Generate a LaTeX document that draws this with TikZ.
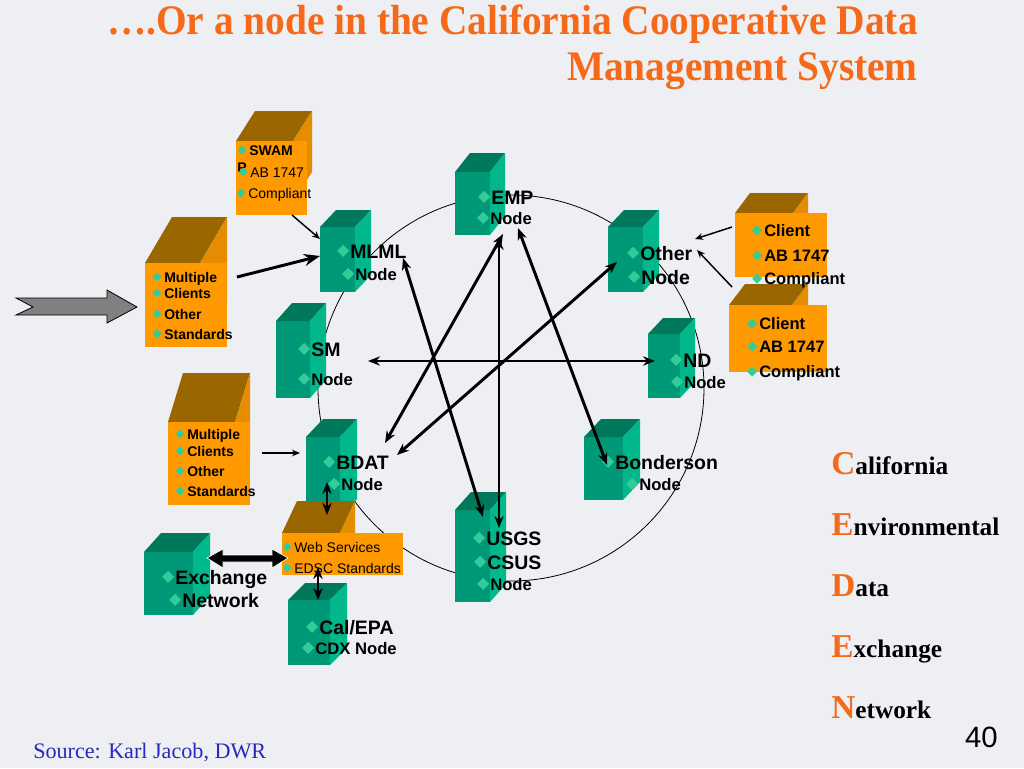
\documentclass[tikz,border=0pt]{standalone}
\usepackage{fontspec}
\setmainfont{Liberation Serif}
\setsansfont{Liberation Sans}
\newfontfamily\symfont{DejaVu Sans}
\usepackage{xcolor}
\usetikzlibrary{arrows.meta}
\definecolor{slide}{RGB}{237,239,242}
\definecolor{tealfront}{RGB}{0,153,119}
\definecolor{tealtop}{RGB}{0,120,92}
\definecolor{tealside}{RGB}{0,184,140}
\definecolor{bullet}{RGB}{51,204,153}
\definecolor{orgfront}{RGB}{255,153,0}
\definecolor{orgtop}{RGB}{153,102,0}
\definecolor{orgside}{RGB}{230,140,0}
\definecolor{titleorange}{RGB}{245,105,25}
\definecolor{srcblue}{RGB}{40,40,190}
\definecolor{arrowgray}{RGB}{128,128,128}
\newcommand{\dia}[1][12]{\raisebox{\dimexpr0.36em-#1pt*3/10\relax}{\makebox[4.5pt]{\textcolor{bullet}{\symfont\fontsize{#1}{#1}\selectfont ◆}}}\hspace{3pt}}
\tikzset{>={Stealth[length=9pt,width=7pt]},
 server/.style={fill=tealfront, anchor=north west, inner sep=0pt, outer sep=0pt},
 crate/.style={fill=orgfront, anchor=north west, inner sep=0pt, outer sep=0pt},
 big/.style={anchor=west, inner sep=0pt, text height=10.5pt, text depth=0pt,
   font=\sffamily\bfseries\fontsize{14.6}{16}\selectfont},
 small/.style={anchor=west, inner sep=0pt, text height=9pt, text depth=0pt,
   font=\sffamily\bfseries\fontsize{12.5}{14}\selectfont},
 note/.style={anchor=west, inner sep=0pt, text height=7.5pt, text depth=0pt,
   font=\sffamily\fontsize{10.5}{12}\selectfont},
 notebf/.style={note, font=\sffamily\bfseries\fontsize{10.5}{12}\selectfont},
 client/.style={anchor=west, inner sep=0pt, text height=8.9pt, text depth=0pt,
   font=\sffamily\bfseries\fontsize{12.4}{14}\selectfont},
 title/.style={anchor=base east, inner sep=0pt, text=titleorange,
   font=\bfseries\fontsize{29.5}{34}\selectfont},
 ceden/.style={anchor=base west, inner sep=0pt, font=\bfseries\fontsize{19}{22}\selectfont},
 link/.style={line width=2.2pt, <->},
 feed/.style={line width=1.1pt, -{Stealth[length=6pt,width=5pt]}},
}

\begin{document}
\begin{tikzpicture}[x=0.75pt,y=-0.75pt]
  \useasboundingbox (0,0) rectangle (1024,768);
  \fill[slide] (0,0) rectangle (1024,768);

  \node[title] (title1) at (918,34) {\scalebox{1}[1.07]{….Or a node in the California Cooperative Data}};
  \node[title] (title2) at (918,80) {\scalebox{1}[1.07]{Management System}};

  % the ring of nodes
  \draw[line width=0.6pt] (511,388) circle [radius=193];

  \foreach \n/\x/\y/\w/\h/\dx/\dy in {emp/455/172/35/63/15/19, mlml/320/227/35/65/16/17,
      other/608/227/35/65/16/17, sm/276/321/34/77/16/18, nd/648/334/32/64/15/16,
      bdat/306/437/34/80/17/18, bond/584/437/39/63/17/18, usgs/455/510/35/92/16/18,
      exch/144/552/49/63/17/19, cal/288/600/42/65/17/17} {
    \node[server, minimum width=\w*0.75pt, minimum height=\h*0.75pt] (\n) at (\x,\y) {};
    \fill[tealtop] (\n.north west) -- ++(\dx,-\dy) -- ++(\w,0) -- (\n.north east) -- cycle;
    \fill[tealside] (\n.north east) -- ++(\dx,-\dy) -- ++(0,\h) -- (\n.south east) -- cycle;
  }

  % clients and standards
  \foreach \n/\x/\y/\w/\h/\dx/\dy/\rw/\rh in {swamp/236/141/57/61/19/30/71/74,
      mctop/145/263/55/84/27/46/82/84, mclow/168/422/67/83/15/49/82/83,
      web/282/533/58/42/15/32/121/42, cli1/735/213/58/64/15/20/92/64,
      cli2/729/305/63/67/16/21/98/67} {
    \fill[orgtop] (\x,\y) -- ++(\dx,-\dy) -- ++(\w,0) -- ++(-\dx,\dy) -- cycle;
    \fill[orgside] (\x+\w,\y) -- ++(\dx,-\dy) -- ++(0,\h) -- ++(-\dx,\dy) -- cycle;
    \node[crate, minimum width=\rw*0.75pt, minimum height=\rh*0.75pt] (\n) at (\x,\y) {};
  }

  \node[notebf] (swamp-1) at (239,150) {\dia[9]SWAM};
  \node[notebf] (swamp-p) at (237,167) {P};
  \node[note] (swamp-2) at (240,172) {\dia[9]AB 1747};
  \node[note] (swamp-3) at (238,193) {\dia[9]Compliant};
  \foreach \t/\y [count=\i] in {Multiple/277, Clients/293, Other/314, Standards/334}
    \node[notebf] (mctop-\i) at (154,\y) {\dia[9]\t};
  \foreach \t/\y [count=\i] in {Multiple/434, Clients/451, Other/471, Standards/491}
    \node[notebf] (mclow-\i) at (177,\y) {\dia[9]\t};
  \foreach \t/\y [count=\i] in {Web Services/547, EDSC Standards/568}
    \node[note] (web-\i) at (284,\y) {\dia[9]\t};
  \foreach \t/\y [count=\i] in {Client/231, AB 1747/256, Compliant/279}
    \node[client] (cli1-\i) at (754,\y) {\dia[10]\t};
  \foreach \t/\y [count=\i] in {Client/324, AB 1747/347, Compliant/372}
    \node[client] (cli2-\i) at (749,\y) {\dia[10]\t};

  \foreach \n/\x/\y/\s/\t in {emp-1/481/197/big/EMP, emp-2/480/218/small/Node,
      mlml-1/340/251/big/MLML, mlml-2/345/274/small/Node,
      other-1/630/253/big/Other, other-2/631/277/big/Node,
      sm-1/301/349/big/SM, sm-2/301/379/small/Node,
      nd-1/673/360/big/ND, nd-2/674/382/small/Node,
      bdat-1/326/462/big/BDAT, bdat-2/331/484/small/Node,
      bond-1/605/462/big/Bonderson, bond-2/629/484/small/Node,
      usgs-1/476/538/big/USGS, usgs-2/477/562/big/CSUS, usgs-3/480/584/small/Node,
      exch-1/165/577/big/Exchange, exch-2/172/600/big/Network,
      cal-1/309/627/big/Cal\slash EPA, cal-2/305/648/small/CDX Node}
    \node[\s] (\n) at (\x,\y) {\dia\t};

  % arrow ends
  \coordinate (mlml-a) at (403,258);
  \coordinate (mlml-b) at (320,239);
  \coordinate (mlml-c) at (320,256);
  \coordinate (emp-a) at (503,234);
  \coordinate (emp-b) at (499,238);
  \coordinate (emp-c) at (518,228);
  \coordinate (usgs-a) at (483,517);
  \coordinate (usgs-b) at (499,528);
  \coordinate (bdat-a) at (385,443);
  \coordinate (bdat-b) at (397,455);
  \coordinate (bdat-c) at (300,453);
  \coordinate (bdat-d) at (327,482);
  \coordinate (other-a) at (617,262);
  \coordinate (other-b) at (695,239);
  \coordinate (other-c) at (697,250);
  \coordinate (bond-a) at (607,465);
  \coordinate (sm-a) at (368,361);
  \coordinate (nd-a) at (655,361);
  \coordinate (swamp-a) at (292,215);
  \coordinate (mctop-a) at (237,277);
  \coordinate (mclow-a) at (262,453);
  \coordinate (cli1-a) at (732,227);
  \coordinate (cli2-a) at (732,287);
  \coordinate (web-a) at (327,515);
  \coordinate (web-b) at (318,567);
  \coordinate (cal-a) at (318,600);

  \draw[link] (mlml-a) -- (usgs-a);
  \draw[link] (bdat-a) -- (emp-a);
  \draw[link] (emp-b) -- (usgs-b);
  \draw[link] (emp-c) -- (bond-a);
  \draw[link] (bdat-b) -- (other-a);
  \draw[link] (sm-a) -- (nd-a);
  \draw[link] (bdat-d) -- (web-a);
  \draw[link] (web-b) -- (cal-a);
  \draw[feed] (swamp-a) -- (mlml-b);
  \draw[line width=2.2pt, -{Stealth[length=12pt,width=9pt]}] (mctop-a) -- (mlml-c);
  \draw[feed] (cli1-a) -- (other-b);
  \draw[feed] (cli2-a) -- (other-c);
  \draw[feed] (mclow-a) -- (bdat-c);

  % block arrows
  \filldraw[fill=arrowgray, draw=black, line width=0.6pt] (16,298) -- (107,298) -- (107,290)
    -- (137,307) -- (107,323) -- (107,315) -- (16,315) -- (33,307) -- cycle;
  \filldraw[fill=black, draw=white, line width=0.5pt] (207,558) -- (223,549) -- (223,555)
    -- (272,555) -- (272,549) -- (288,558) -- (272,568) -- (272,562) -- (223,562)
    -- (223,568) -- cycle;

  % CEDEN
  \foreach \c/\t/\y [count=\i] in {C/alifornia/474, E/nvironmental/535, D/ata/596,
      E/xchange/657, N/etwork/718}
    \node[ceden] (ceden-\i) at (831,\y) {\textcolor{titleorange}{\fontsize{25}{28}\selectfont\c}\t};

  \node[anchor=base east, inner sep=0pt, font=\sffamily\fontsize{22}{24}\selectfont] (page) at (998,747) {40};
  \node[anchor=base west, inner sep=0pt, text=srcblue, font=\fontsize{16.6}{18}\selectfont] (source) at (33,758) {Source: Karl Jacob, DWR};
\end{tikzpicture}
\end{document}
